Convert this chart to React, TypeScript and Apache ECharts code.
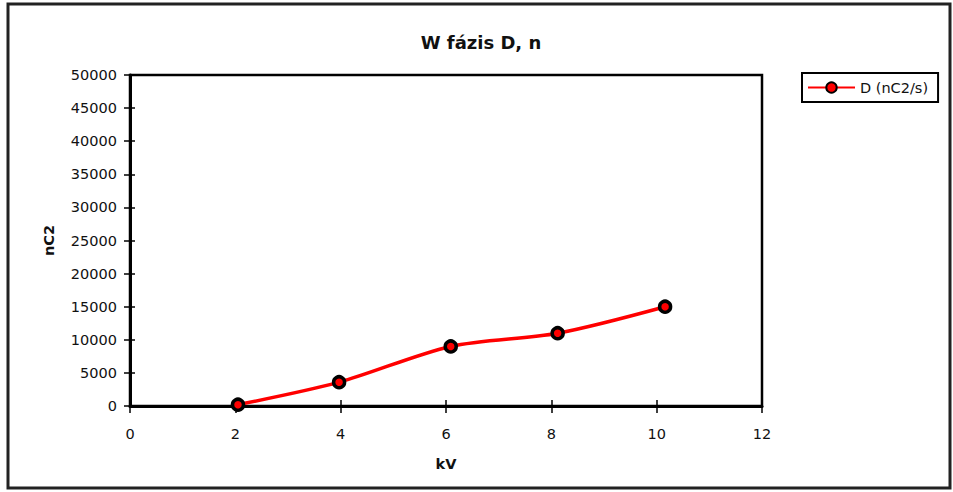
import React, { useEffect, useRef } from "react";
import * as echarts from "echarts";

// Measured voltage steps and the corresponding charge values
const voltageKV = [2.05, 3.97, 6.09, 8.12, 10.16];
const chargeD = [200, 3600, 9000, 11000, 15000];

const titleText = "W fázis D, n";
const seriesName = "D (nC2/s)";
const xAxisName = "kV";
const yAxisName = "nC2";

const FONT = "'DejaVu Sans', Arial, sans-serif";

export default function App() {
  const ref = useRef<HTMLDivElement>(null);

  useEffect(() => {
    if (!ref.current) return;
    const chart = echarts.init(ref.current, null, { renderer: "svg" });

    const points = voltageKV.map((x, i) => [x, chargeD[i]]);

    const grid = { left: 130, right: 191, top: 75, bottom: 86 };
    const plain = (v: number) => String(v);

    chart.setOption({
      animation: false,
      backgroundColor: "#ffffff",
      textStyle: { fontFamily: FONT },
      grid: {
        ...grid,
        show: true,
        borderColor: "#000",
        borderWidth: 2.5,
        backgroundColor: "transparent",
      },
      legend: {
        left: 802,
        top: 73,
        orient: "vertical",
        borderColor: "#000",
        borderWidth: 2,
        padding: [7, 10, 7, 5],
        itemWidth: 47,
        itemHeight: 13,
        itemGap: 4,
        textStyle: { fontFamily: FONT, fontSize: 14.5, color: "#111" },
        data: [seriesName],
      },
      graphic: [
        {
          type: "rect",
          shape: { x: 8, y: 4, width: 942, height: 484 },
          style: { fill: "none", stroke: "#222", lineWidth: 3 },
          silent: true,
        },
        {
          type: "text",
          x: 481,
          y: 42,
          style: {
            text: titleText,
            fontFamily: FONT,
            fontSize: 18,
            fontWeight: "bold",
            fill: "#111",
            align: "center",
            verticalAlign: "middle",
          },
        },
      ],
      xAxis: [
        {
          type: "value",
          min: 0,
          max: 12,
          interval: 2,
          name: xAxisName,
          nameLocation: "middle",
          nameGap: 50,
          nameTextStyle: { fontFamily: FONT, fontSize: 14.5, fontWeight: "bold", color: "#111" },
          axisLine: { show: true, onZero: false, lineStyle: { color: "#000", width: 3 } },
          axisTick: { show: true, length: 7, lineStyle: { color: "#000", width: 1.5 } },
          axisLabel: { margin: 20, fontFamily: FONT, fontSize: 14.5, color: "#111", formatter: plain },
          splitLine: { show: false },
        },
        {
          // inward half of the crossing tick marks
          type: "value",
          position: "bottom",
          min: 0,
          max: 12,
          interval: 2,
          axisLine: { show: false },
          axisTick: { show: true, inside: true, length: 6, lineStyle: { color: "#000", width: 1.5 } },
          axisLabel: { show: false },
          splitLine: { show: false },
        },
      ],
      yAxis: [
        {
          type: "value",
          min: 0,
          max: 50000,
          interval: 5000,
          name: yAxisName,
          nameLocation: "middle",
          nameRotate: 90,
          nameGap: 74,
          nameTextStyle: { fontFamily: FONT, fontSize: 14.5, fontWeight: "bold", color: "#111" },
          axisLine: { show: true, lineStyle: { color: "#000", width: 3 } },
          axisTick: { show: true, length: 6, lineStyle: { color: "#000", width: 1.5 } },
          axisLabel: { margin: 13, fontFamily: FONT, fontSize: 14.5, color: "#111", formatter: plain },
          splitLine: { show: false },
        },
        {
          type: "value",
          position: "left",
          min: 0,
          max: 50000,
          interval: 5000,
          axisLine: { show: false },
          axisTick: { show: true, inside: true, length: 5, lineStyle: { color: "#000", width: 1.5 } },
          axisLabel: { show: false },
          splitLine: { show: false },
        },
      ],
      series: [
        {
          name: seriesName,
          type: "line",
          xAxisIndex: 0,
          yAxisIndex: 0,
          data: points,
          smooth: 0.3,
          symbol: "circle",
          symbolSize: 11,
          lineStyle: { color: "#ff0000", width: 3.5 },
          itemStyle: { color: "#ff0000", borderColor: "#000", borderWidth: 3.5 },
        },
      ],
    });

    return () => chart.dispose();
  }, []);

  return (
    <div
      ref={ref}
      style={{ position: "fixed", left: 0, top: 0, width: 953, height: 492, background: "#fff" }}
    />
  );
}
